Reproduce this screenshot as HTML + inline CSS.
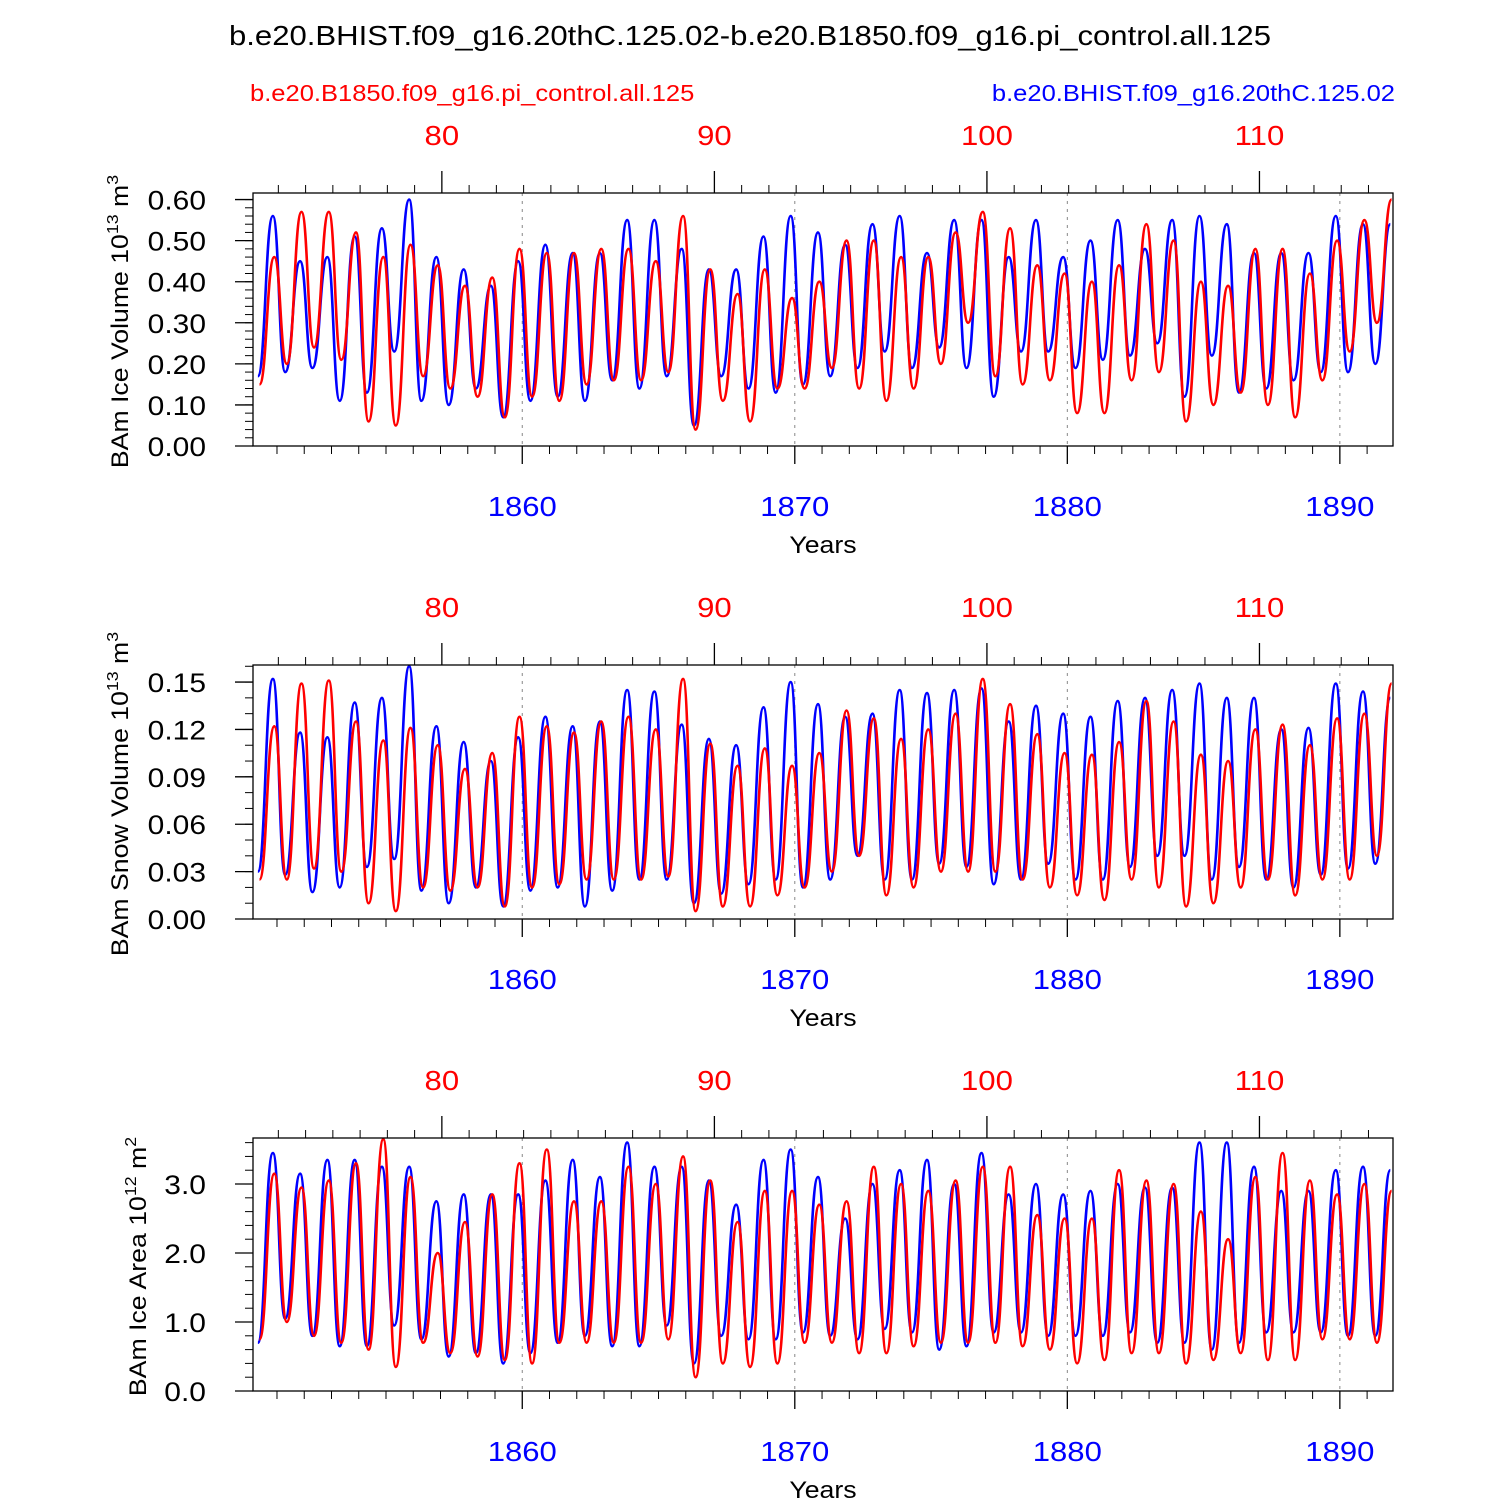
<!DOCTYPE html>
<html>
<head>
<meta charset="utf-8">
<style>
  html, body { margin: 0; padding: 0; background: #fff; }
  svg { display: block; font-family: "Liberation Sans", "DejaVu Sans", sans-serif; }
</style>
</head>
<body>
<svg id="chart" width="1500" height="1500" viewBox="0 0 1500 1500" xmlns="http://www.w3.org/2000/svg">
  <text class="wide" x="750" y="45" font-size="28" text-anchor="middle">b.e20.BHIST.f09_g16.20thC.125.02-b.e20.B1850.f09_g16.pi_control.all.125</text>
  <text class="wide" x="250" y="101" font-size="23" fill="#ff0000">b.e20.B1850.f09_g16.pi_control.all.125</text>
  <text class="wide" x="1395" y="101" font-size="23" fill="#0000ff" text-anchor="end">b.e20.BHIST.f09_g16.20thC.125.02</text>
</svg>
<script>
// ---- Data (per-year seasonal extremes), years 1850..1891 ----
const years = [];
for (let y = 1850; y <= 1891; y++) years.push(y);
const topTickLabels = [80, 90, 100, 110];
const bottomTickLabels = [1860, 1870, 1880, 1890];

const volBluePeaks = [0.56,0.45,0.46,0.51,0.53,0.60,0.46,0.43,0.39,0.45,0.49,0.47,0.47,0.55,0.55,0.48,0.43,0.43,0.51,0.56,0.52,0.49,0.54,0.56,0.47,0.55,0.55,0.46,0.55,0.46,0.50,0.55,0.48,0.55,0.56,0.54,0.47,0.47,0.47,0.56,0.54,0.54];
const volBlueTroughs = [0.17,0.18,0.19,0.11,0.13,0.23,0.11,0.10,0.14,0.07,0.11,0.12,0.11,0.16,0.14,0.17,0.05,0.17,0.14,0.13,0.15,0.17,0.19,0.23,0.19,0.24,0.19,0.12,0.23,0.23,0.19,0.21,0.22,0.25,0.12,0.22,0.13,0.14,0.16,0.18,0.18,0.20];
const volRedPeaks = [0.46,0.57,0.57,0.52,0.46,0.49,0.44,0.39,0.41,0.48,0.47,0.47,0.48,0.48,0.45,0.56,0.43,0.37,0.43,0.36,0.40,0.50,0.50,0.46,0.46,0.52,0.57,0.53,0.44,0.42,0.40,0.44,0.54,0.50,0.40,0.39,0.48,0.48,0.42,0.50,0.55,0.60];
const volRedTroughs = [0.15,0.20,0.24,0.21,0.06,0.05,0.17,0.14,0.12,0.07,0.12,0.11,0.15,0.16,0.16,0.18,0.04,0.11,0.06,0.14,0.14,0.19,0.14,0.11,0.14,0.20,0.30,0.17,0.15,0.16,0.08,0.08,0.16,0.18,0.06,0.10,0.13,0.10,0.07,0.16,0.23,0.30];

const snowBluePeaks = [0.152,0.118,0.115,0.137,0.140,0.160,0.122,0.112,0.100,0.115,0.128,0.122,0.125,0.145,0.144,0.123,0.114,0.110,0.134,0.150,0.136,0.128,0.130,0.145,0.143,0.145,0.146,0.125,0.135,0.130,0.128,0.138,0.140,0.145,0.149,0.140,0.140,0.120,0.121,0.149,0.144,0.140];
const snowBlueTroughs = [0.030,0.028,0.017,0.020,0.033,0.038,0.018,0.010,0.020,0.008,0.018,0.020,0.008,0.018,0.025,0.025,0.010,0.016,0.022,0.025,0.020,0.025,0.040,0.025,0.025,0.035,0.033,0.022,0.025,0.035,0.025,0.025,0.033,0.040,0.040,0.025,0.033,0.025,0.020,0.028,0.032,0.035];
const snowRedPeaks = [0.122,0.149,0.151,0.125,0.113,0.121,0.110,0.095,0.105,0.128,0.122,0.118,0.125,0.128,0.120,0.152,0.111,0.097,0.108,0.097,0.105,0.132,0.127,0.114,0.120,0.130,0.152,0.136,0.117,0.105,0.104,0.112,0.138,0.125,0.104,0.100,0.120,0.123,0.110,0.127,0.130,0.149];
const snowRedTroughs = [0.025,0.025,0.032,0.030,0.010,0.005,0.020,0.018,0.020,0.008,0.020,0.022,0.025,0.025,0.025,0.027,0.005,0.008,0.008,0.015,0.020,0.030,0.040,0.015,0.020,0.030,0.030,0.030,0.025,0.020,0.015,0.012,0.025,0.020,0.008,0.010,0.020,0.025,0.015,0.025,0.025,0.040];

const areaBluePeaks = [3.45,3.15,3.35,3.35,3.25,3.25,2.75,2.85,2.85,2.85,3.05,3.35,3.10,3.60,3.25,3.25,3.05,2.70,3.35,3.50,3.10,2.50,3.00,3.20,3.35,3.00,3.45,2.85,3.00,2.85,2.90,3.00,2.95,2.95,3.60,3.60,3.25,2.90,2.90,3.20,3.25,3.20];
const areaBlueTroughs = [0.70,1.05,0.80,0.65,0.65,0.95,0.75,0.50,0.55,0.40,0.55,0.70,0.80,0.65,0.65,0.95,0.40,0.80,0.75,0.75,0.85,0.80,0.75,0.90,0.85,0.60,0.65,0.85,0.85,0.80,0.80,0.80,0.85,0.70,0.70,0.60,0.70,0.85,0.85,0.85,0.80,0.80];
const areaRedPeaks = [3.15,2.95,3.05,3.30,3.65,3.10,2.00,2.45,2.85,3.30,3.50,2.75,2.75,3.25,3.00,3.40,3.05,2.45,2.90,2.90,2.70,2.75,3.25,3.00,2.90,3.05,3.25,3.25,2.55,2.50,2.50,3.20,3.05,3.00,2.60,2.20,3.10,3.45,3.05,2.85,3.00,2.90];
const areaRedTroughs = [0.75,1.00,0.80,0.70,0.60,0.35,0.70,0.55,0.50,0.45,0.40,0.70,0.70,0.70,0.70,0.75,0.20,0.40,0.35,0.40,0.70,0.70,0.55,0.55,0.65,0.70,0.70,0.70,0.65,0.60,0.40,0.45,0.55,0.55,0.40,0.45,0.55,0.45,0.45,0.75,0.75,0.70];

// ---- Layout ----
const svg = document.getElementById('chart');
const NS = 'http://www.w3.org/2000/svg';
const X0 = 253, X1 = 1393, XMIN = 1850.12, XMAX = 1891.95;
const RED_OFFSET = 1777.05;
function xs(t) { return X0 + (t - XMIN) / (XMAX - XMIN) * (X1 - X0); }

function mk(tag, attrs, parent) {
  const e = document.createElementNS(NS, tag);
  for (const k in attrs) e.setAttribute(k, attrs[k]);
  (parent || svg).appendChild(e);
  return e;
}

const panels = [
  { name: 'ice-volume', top: 193, bottom: 446, ymax: 0.616, major: 0.1, minor: 0.02, dec: 2,
    title: 'BAm Ice Volume 10', exp: '13', unit: ' m', uexp: '3', tx: 128,
    blueP: volBluePeaks, blueT: volBlueTroughs, redP: volRedPeaks, redT: volRedTroughs },
  { name: 'snow-volume', top: 665, bottom: 919, ymax: 0.1608, major: 0.03, minor: 0.01, dec: 2,
    title: 'BAm Snow Volume 10', exp: '13', unit: ' m', uexp: '3', tx: 128,
    blueP: snowBluePeaks, blueT: snowBlueTroughs, redP: snowRedPeaks, redT: snowRedTroughs },
  { name: 'ice-area', top: 1138, bottom: 1391, ymax: 3.667, major: 1.0, minor: 0.2, dec: 1,
    title: 'BAm Ice Area 10', exp: '12', unit: ' m', uexp: '2', tx: 146,
    blueP: areaBluePeaks, blueT: areaBlueTroughs, redP: areaRedPeaks, redT: areaRedTroughs }
];

function buildPath(peaks, troughs, tOff, pOff, ys) {
  const pts = [];
  years.forEach((y, i) => {
    pts.push([xs(y + tOff), ys(troughs[i])]);
    pts.push([xs(y + pOff), ys(peaks[i])]);
  });
  let d = 'M' + pts[0][0].toFixed(1) + ',' + pts[0][1].toFixed(1);
  for (let i = 1; i < pts.length; i++) {
    const a = pts[i - 1], b = pts[i], mx = (a[0] + b[0]) / 2;
    d += ' C' + mx.toFixed(1) + ',' + a[1].toFixed(1) + ' ' + mx.toFixed(1) + ',' + b[1].toFixed(1) + ' ' + b[0].toFixed(1) + ',' + b[1].toFixed(1);
  }
  return d;
}

panels.forEach((p, pi) => {
  const g = mk('g', {});
  
  
  const ys = v => p.bottom - v / p.ymax * (p.bottom - p.top);

  const clip = mk('clipPath', { id: 'clip' + pi }, g);
  mk('rect', { x: X0, y: p.top, width: X1 - X0, height: p.bottom - p.top }, clip);

  bottomTickLabels.forEach(yr => {
    const l = mk('line', { x1: xs(yr), x2: xs(yr), y1: p.top, y2: p.bottom, stroke: '#888', 'stroke-width': 1, 'stroke-dasharray': '3,5' }, g);
    
    
  });

  const blue = mk('path', { d: buildPath(p.blueP, p.blueT, 0.30, 0.85, ys), fill: 'none', stroke: '#0000ff', 'stroke-width': 2.6, 'clip-path': 'url(#clip' + pi + ')', 'stroke-linejoin': 'round' }, g);
  
  
  const red = mk('path', { d: buildPath(p.redP, p.redT, 0.36, 0.90, ys), fill: 'none', stroke: '#ff0000', 'stroke-width': 2.6, 'clip-path': 'url(#clip' + pi + ')', 'stroke-linejoin': 'round' }, g);
  
  

  const fr = mk('rect', { x: X0, y: p.top, width: X1 - X0, height: p.bottom - p.top, fill: 'none', stroke: '#000', 'stroke-width': 1.3 }, g);
  
  

  const nMin = Math.floor(p.ymax / p.minor + 1e-6);
  for (let k = 0; k <= nMin; k++) {
    const y = ys(k * p.minor);
    mk('line', { x1: X0 - 8, x2: X0, y1: y, y2: y, stroke: '#000', 'stroke-width': 1 }, g);
  }
  const nMaj = Math.floor(p.ymax / p.major + 1e-6);
  for (let k = 0; k <= nMaj; k++) {
    const v = k * p.major, y = ys(v);
    mk('line', { x1: X0 - 18, x2: X0, y1: y, y2: y, stroke: '#000', 'stroke-width': 1.3 }, g);
    const t = mk('text', { x: 206, y: y + 10, 'font-size': 27, 'text-anchor': 'end', class: 'wide' }, g);
    t.textContent = v.toFixed(p.dec);
    
    
  }

  for (let yr = 1851; yr <= 1891; yr++) {
    const x = xs(yr);
    const major = yr % 10 === 0;
    mk('line', { x1: x, x2: x, y1: p.bottom, y2: p.bottom + (major ? 18 : 8), stroke: '#000', 'stroke-width': major ? 1.3 : 1 }, g);
  }
  bottomTickLabels.forEach(yr => {
    const t = mk('text', { x: xs(yr), y: p.bottom + 70, 'font-size': 28, 'text-anchor': 'middle', fill: '#0000ff', class: 'wide' }, g);
    t.textContent = yr;
    
    
  });
  const xt = mk('text', { x: 823, y: p.bottom + 107, 'font-size': 24, 'text-anchor': 'middle', class: 'wide' }, g);
  xt.textContent = 'Years';
  
  

  for (let ry = 74; ry <= 115; ry++) {
    const x = xs(ry + RED_OFFSET);
    if (x < X0 || x > X1) continue;
    const major = ry % 10 === 0;
    mk('line', { x1: x, x2: x, y1: p.top, y2: p.top - (major ? 22 : 8), stroke: '#000', 'stroke-width': major ? 1.3 : 1 }, g);
  }
  topTickLabels.forEach(ry => {
    const t = mk('text', { x: xs(ry + RED_OFFSET), y: p.top - 48, 'font-size': 28, 'text-anchor': 'middle', fill: '#ff0000', class: 'wide' }, g);
    t.textContent = ry;
    
    
  });

  const cy = (p.top + p.bottom) / 2 + 2;
  const yt = mk('text', { x: 0, y: 0, 'font-size': 24, 'text-anchor': 'middle', transform: 'translate(' + p.tx + ',' + cy + ') rotate(-90)', class: 'wide' }, g);
  
  
  const s1 = mk('tspan', {}, yt); s1.textContent = p.title;
  const s2 = mk('tspan', { dy: -10, 'font-size': 16 }, yt); s2.textContent = p.exp;
  const s3 = mk('tspan', { dy: 10 }, yt); s3.textContent = p.unit;
  const s4 = mk('tspan', { dy: -10, 'font-size': 16 }, yt); s4.textContent = p.uexp;
});

// widen text to mimic the wider Helvetica-style glyphs of the reference
document.querySelectorAll('text.wide').forEach(t => {
  const w = t.getComputedTextLength();
  if (w > 0) {
    t.setAttribute('textLength', (w * 1.11).toFixed(1));
    t.setAttribute('lengthAdjust', 'spacingAndGlyphs');
  }
});
</script>
</body>
</html>
